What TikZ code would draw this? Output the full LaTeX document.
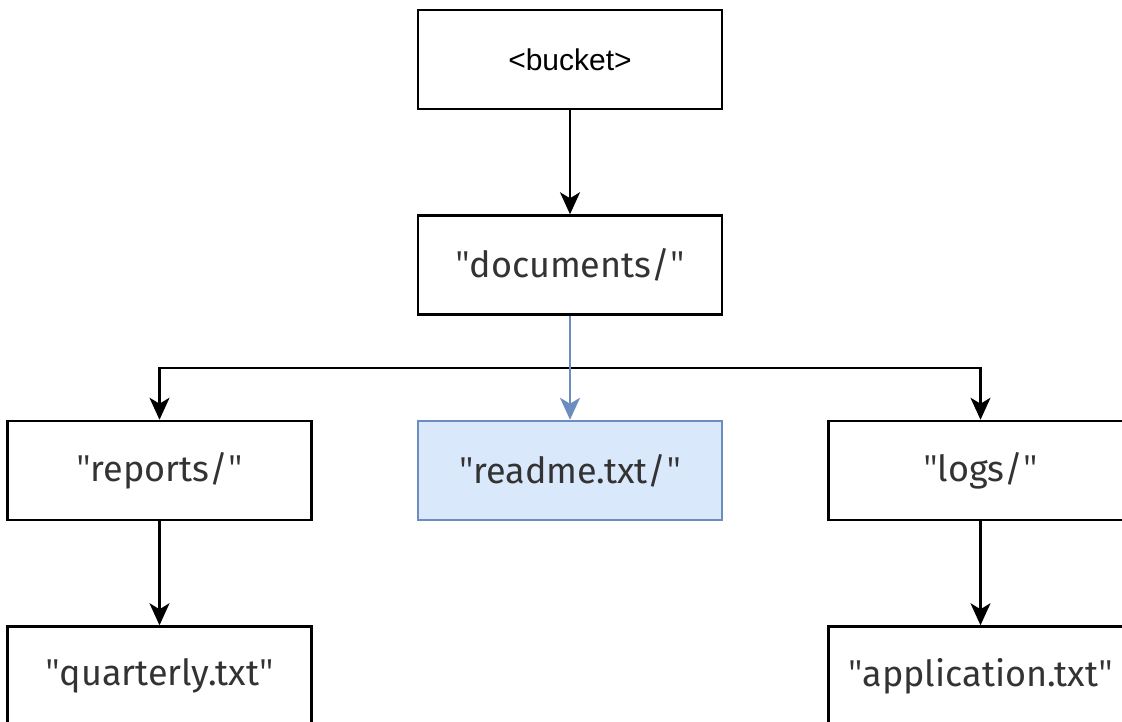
\documentclass[tikz,border=0pt]{standalone}
\usepackage{fontspec}
\setmainfont{Fira Sans}
\newfontfamily\bucketfont{Liberation Sans}
\newfontfamily\quotefont{Open Sans}
\usetikzlibrary{positioning,arrows.meta}

\definecolor{keytext}{HTML}{333333}
\definecolor{selfill}{HTML}{DAE8FC}
\definecolor{seldraw}{HTML}{6C8EBF}

\newcommand{\qq}{{\quotefont\symbol{34}}}

\tikzset{
  key/.style={draw, line width=2.5pt, minimum width=304pt, minimum height=99pt,
    inner sep=0pt, text=keytext, font=\fontsize{36}{42}\selectfont},
  arr/.style={-{Stealth[length=22pt,width=20pt,inset=6pt]}, line width=2.5pt},
}

\begin{document}
\begin{tikzpicture}[x=1pt, y=-1pt, node distance=104pt]

\useasboundingbox (0,0) rectangle (1122,721);
\clip (0,0) rectangle (1122,721);

\node[key, text=black, font=\bucketfont\fontsize{30}{36}\selectfont] (bucket) at (570,59.5) {<bucket>};

\node[key, below=of bucket] (docs) {\qq documents/\qq};
\node[key, below=of docs, fill=selfill, draw=seldraw] (readme) {\qq readme.txt/\qq};
\node[key, left=of readme] (reports) {\qq reports/\qq};
\node[key, right=of readme] (logs) {\qq logs/\qq};
\node[key, below=of reports] (quarterly) {\qq quarterly.txt\qq};
\node[key, below=of logs] (app) {\qq application.txt\qq};

\draw [arr] (bucket.south) -- (docs.north);
\draw [arr] (docs.south) -- ++(0,52) -| (reports.north);
\draw [arr] (docs.south) -- ++(0,52) -| (logs.north);
\draw [arr, draw=seldraw, fill=seldraw] (docs.south) -- (readme.north);
\draw [arr] (reports.south) -- (quarterly.north);
\draw [arr] (logs.south) -- (app.north);

\end{tikzpicture}
\end{document}
